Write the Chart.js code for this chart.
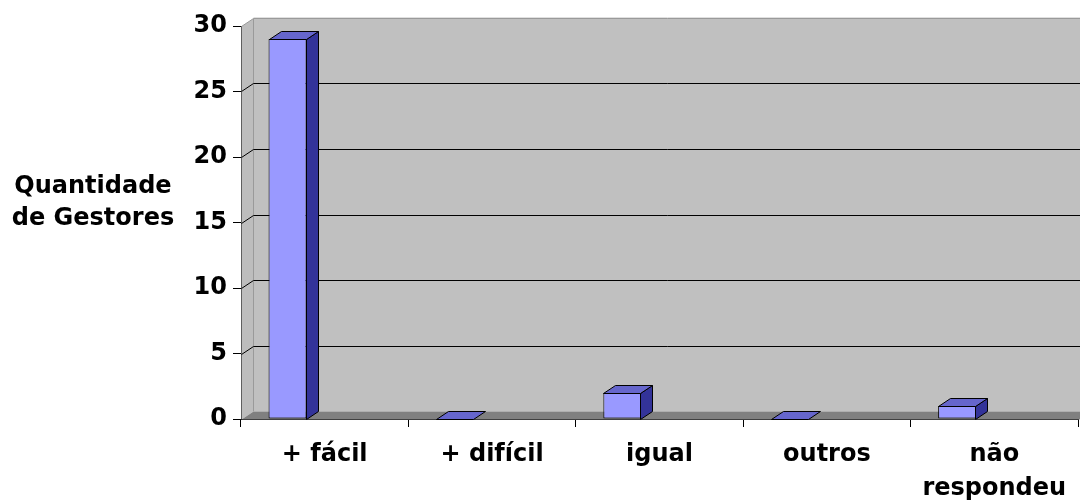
<!DOCTYPE html>
<html>
<head>
<meta charset="utf-8">
<script src="https://cdn.jsdelivr.net/npm/chart.js@4/dist/chart.umd.min.js"></script>
<style>
  html, body { margin: 0; padding: 0; background: #ffffff; }
  #wrap { width: 1080px; height: 502px; }
</style>
</head>
<body>
<div id="wrap"><canvas id="c" width="1080" height="502"></canvas></div>
<script>
// Categories and counts
const categories = ['+ fácil', '+ difícil', 'igual', 'outros', ['não', 'respondeu']];
const gestores = [29, 0, 2, 0, 1];
const yTitleLines = ['Quantidade', 'de Gestores'];
const yMin = 0;
const yMax = 30;
const yStep = 5;

// 3D look: depth offset of walls/boxes and bar placement inside a category
const DEPTH_X = 12;
const DEPTH_Y = -8;
const BAR_SHIFT = 0.222;   // fraction of a category width the box is moved left
const FONT = "'DejaVu Sans', sans-serif";

function poly(ctx, pts, fill, stroke) {
  ctx.beginPath();
  ctx.moveTo(pts[0][0], pts[0][1]);
  for (let i = 1; i < pts.length; i++) ctx.lineTo(pts[i][0], pts[i][1]);
  ctx.closePath();
  if (fill) { ctx.fillStyle = fill; ctx.fill(); }
  if (stroke) { ctx.strokeStyle = stroke; ctx.lineWidth = 1; ctx.stroke(); }
}

// Back wall, side wall, floor and gridlines, drawn behind the bars
const walls3d = {
  id: 'walls3d',
  beforeDatasetsDraw(chart) {
    const ctx = chart.ctx;
    const a = chart.chartArea;
    const ys = chart.scales.y;
    const L = a.left + 0.5, R = a.right, T = a.top + 0.5, B = a.bottom + 0.5;
    ctx.save();
    // back wall
    poly(ctx, [[L + DEPTH_X, T + DEPTH_Y], [R + DEPTH_X + 20, T + DEPTH_Y],
               [R + DEPTH_X + 20, B + DEPTH_Y], [L + DEPTH_X, B + DEPTH_Y]], '#c0c0c0');
    // side wall
    poly(ctx, [[L, T], [L + DEPTH_X, T + DEPTH_Y], [L + DEPTH_X, B + DEPTH_Y], [L, B]], '#bdbdbd');
    // floor
    poly(ctx, [[L, B], [L + DEPTH_X, B + DEPTH_Y], [R + DEPTH_X + 20, B + DEPTH_Y], [R + 20, B]], '#808080');
    // wall edges
    ctx.strokeStyle = '#9a9a9a';
    ctx.lineWidth = 1;
    ctx.beginPath();
    ctx.moveTo(L, T); ctx.lineTo(L + DEPTH_X, T + DEPTH_Y); ctx.lineTo(R + DEPTH_X + 20, T + DEPTH_Y);
    ctx.moveTo(L + DEPTH_X, T + DEPTH_Y); ctx.lineTo(L + DEPTH_X, B + DEPTH_Y);
    ctx.stroke();
    ctx.strokeStyle = '#e0e0e0';
    ctx.beginPath();
    ctx.moveTo(L + DEPTH_X, T + DEPTH_Y - 1); ctx.lineTo(R + DEPTH_X + 20, T + DEPTH_Y - 1);
    ctx.stroke();
    // gridlines: diagonal on the side wall, horizontal on the back wall
    ctx.strokeStyle = '#000000';
    ys.ticks.forEach(t => {
      if (t.value <= yMin || t.value >= yMax) return;
      const py = Math.round(ys.getPixelForValue(t.value)) + 0.5;
      ctx.beginPath();
      ctx.moveTo(L, py);
      ctx.lineTo(L + DEPTH_X, py + DEPTH_Y);
      ctx.lineTo(R + DEPTH_X + 20, py + DEPTH_Y);
      ctx.stroke();
    });
    ctx.restore();
  }
};

// Moves each box within its category and adds the side and top faces
const boxes3d = {
  id: 'boxes3d',
  afterDatasetsUpdate(chart) {
    const xs = chart.scales.x;
    const step = xs.getPixelForValue(1) - xs.getPixelForValue(0);
    chart.getDatasetMeta(0).data.forEach(el => { el.x -= step * BAR_SHIFT; });
  },
  afterDatasetsDraw(chart) {
    const ctx = chart.ctx;
    ctx.save();
    chart.getDatasetMeta(0).data.forEach(el => {
      const p = el.getProps(['x', 'y', 'base', 'width'], true);
      const l = Math.round(p.x - p.width / 2) + 0.5;
      const r = Math.round(p.x + p.width / 2) - 0.5;
      const top = Math.round(Math.min(p.y, p.base)) + 0.5;
      const bot = Math.round(Math.max(p.y, p.base)) + 0.5;
      if (bot - top > 0.5) {
        poly(ctx, [[r, top], [r + DEPTH_X, top + DEPTH_Y], [r + DEPTH_X, bot + DEPTH_Y], [r, bot]], '#333399', '#000000');
      }
      poly(ctx, [[l, top], [l + DEPTH_X, top + DEPTH_Y], [r + DEPTH_X, top + DEPTH_Y], [r, top]], '#6666cc', '#000000');
    });
    ctx.restore();
  }
};

// Horizontal two-line title of the value axis
const yTitle = {
  id: 'yTitle',
  afterDraw(chart) {
    const ctx = chart.ctx;
    ctx.save();
    ctx.font = 'bold 24px ' + FONT;
    ctx.fillStyle = '#000000';
    ctx.textAlign = 'center';
    ctx.textBaseline = 'alphabetic';
    yTitleLines.forEach((s, i) => ctx.fillText(s, 93, 193 + i * 32));
    ctx.restore();
  }
};

Chart.defaults.font.family = FONT;
Chart.defaults.font.size = 24;
Chart.defaults.font.weight = 'bold';
Chart.defaults.color = '#000000';

new Chart(document.getElementById('c'), {
  type: 'bar',
  data: {
    labels: categories,
    datasets: [{
      data: gestores,
      backgroundColor: '#9999ff',
      borderColor: '#000000',
      borderWidth: 1,
      borderSkipped: false,
      categoryPercentage: 1,
      barPercentage: 0.227
    }]
  },
  plugins: [walls3d, boxes3d, yTitle],
  options: {
    responsive: false,
    devicePixelRatio: 1,
    animation: false,
    events: [],
    layout: { padding: { left: 0, top: 26, right: 2, bottom: 0 } },
    plugins: { legend: { display: false }, tooltip: { enabled: false } },
    scales: {
      x: {
        offset: true,
        grid: { offset: true, drawOnChartArea: false, color: '#000000', tickLength: 8 },
        border: { display: true, color: '#000000', width: 1 },
        ticks: { padding: 10, maxRotation: 0, autoSkip: false, font: { size: 24, weight: 'bold', lineHeight: 1.45 } },
        afterFit(s) { s.height = 83; }
      },
      y: {
        min: yMin,
        max: yMax,
        grid: { drawOnChartArea: false, color: '#000000', tickLength: 8 },
        border: { display: true, color: '#000000', width: 1 },
        ticks: { stepSize: yStep, padding: 6, font: { size: 24, weight: 'bold' } },
        afterFit(s) { s.width = 241; }
      }
    }
  }
});
</script>
</body>
</html>
